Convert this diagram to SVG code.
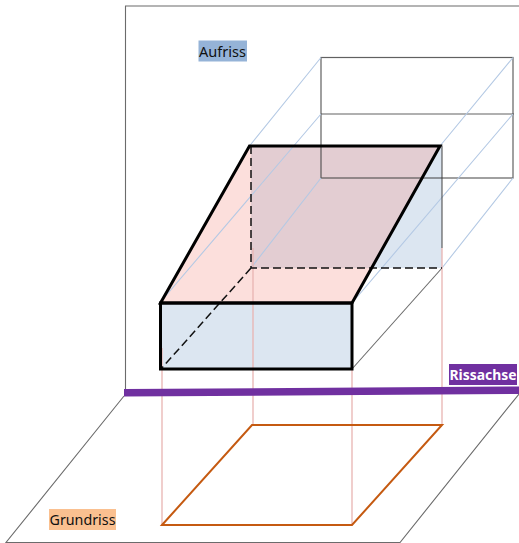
<svg xmlns="http://www.w3.org/2000/svg" width="519" height="543" viewBox="0 0 519 543">
<style>
.plane{fill:none;stroke:#6b6b6b;stroke-width:1.100}
.wire{fill:none;stroke:#3a3a3a;stroke-opacity:.8;stroke-width:1.200}
.proj{fill:none;stroke:#b4c9e4;stroke-width:1.100}
.drop{fill:none;stroke:#e9b4b2;stroke-width:1.300}
.edge{fill:none;stroke:#000;stroke-width:3}
.dash{fill:none;stroke:#111;stroke-width:1.500;stroke-dasharray:8 4}
.lbl{font-family:"Noto Sans","Open Sans",sans-serif;font-size:14.500px}
</style>
<rect width="519" height="543" fill="#fff"/>
<g id="planes">
<path class="plane" d="M519 6H125.500V392"/>
<path class="plane" d="M124 396L6 542.500H400L519 394"/>
</g>
<g id="solid-faces">
<rect x="251" y="146" width="191" height="122" fill="#dce6f1"/>
<rect x="160.500" y="303" width="191.500" height="66" fill="#dce6f1"/>
<polygon points="249.500,146 440,146 352,303 160.500,302" fill="#f5968c" fill-opacity=".3"/>
</g>
<g id="rear-projection">
<rect class="wire" x="321" y="57.500" width="192" height="120.500"/>
<path class="wire" d="M321 114H514"/>
</g>
<g id="connectors">
<path class="proj" d="M249.500 146L321 57.500M160.500 302L321 114M251 268L321 178M440 146L513 57.500M352 303L513 114M442 268L513 178"/>
<path class="wire" d="M249.500 146H442V248"/>
<path class="plane" d="M352 369L442 268"/>
<path class="drop" d="M162 348V525M253 248V425M352 303V525M442 248V425"/>
</g>
<g id="solid-edges">
<path class="dash" d="M251 146V268H442M251 268L161 369"/>
<polygon class="edge" points="249.500,146 440,146 352,303 160.500,303"/>
<rect class="edge" x="160.500" y="303" width="191.500" height="66"/>
</g>
<g id="floor-plan">
<polygon points="162,525 252,425 442,425 352,525" fill="none" stroke="#c55a11" stroke-width="2"/>
</g>
<g id="axis">
<polygon points="124,389 519,386.500 519,394 124,396.500" fill="#7030a0"/>
</g>
<g id="label-aufriss">
<rect x="198.500" y="40.500" width="48.500" height="21" fill="#95b3d7"/>
<text class="lbl" x="199" y="56.500" textLength="47" lengthAdjust="spacingAndGlyphs" fill="#111">Aufriss</text>
</g>
<g id="label-rissachse">
<rect x="449" y="364" width="68" height="21" fill="#7030a0"/>
<text class="lbl" x="449.500" y="380" textLength="67" lengthAdjust="spacingAndGlyphs" font-weight="700" fill="#fff">Rissachse</text>
</g>
<g id="label-grundriss">
<rect x="49" y="509" width="67" height="21" fill="#fac090"/>
<text class="lbl" x="49.500" y="525" textLength="66" lengthAdjust="spacingAndGlyphs" fill="#111">Grundriss</text>
</g>
</svg>
